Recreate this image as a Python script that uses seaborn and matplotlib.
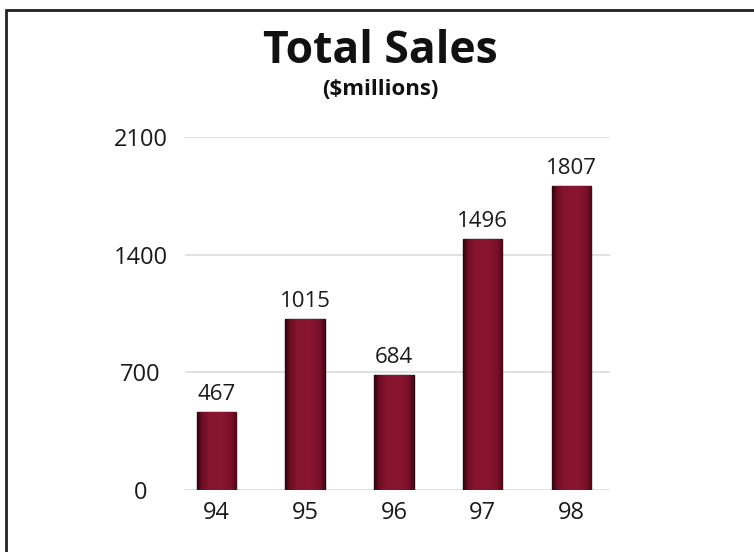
import numpy as np
import matplotlib
matplotlib.use("Agg")
import matplotlib.pyplot as plt
from matplotlib.lines import Line2D
from matplotlib.colors import LinearSegmentedColormap
import seaborn as sns

# Fiscal years and total sales ($ millions)
years = ["94", "95", "96", "97", "98"]
sales = [467, 1015, 684, 1496, 1807]
y_ticks = [0, 700, 1400, 2100]

sns.set_theme(style="white")
plt.rcParams["font.family"] = ["Open Sans", "DejaVu Sans"]

fig = plt.figure(figsize=(7.54, 5.52), dpi=100)
fig.patch.set_facecolor("white")
ax = fig.add_axes([0.2454, 0.1123, 0.5636, 0.6395])

sns.barplot(x=years, y=sales, color="#851431", width=0.44,
            edgecolor="#2a0710", linewidth=1.0, ax=ax, zorder=3)

# Shade each bar: thin dark edges around a crimson core
shade = LinearSegmentedColormap.from_list(
    "bar_shade",
    [(0.0, "#2e040e"), (0.12, "#6e0e25"), (0.3, "#86142f"),
     (0.6, "#8a1632"), (0.88, "#7a1029"), (1.0, "#4a0818")])
grad = np.linspace(0, 1, 64).reshape(1, -1)
for patch in ax.patches:
    x0, y0 = patch.get_x(), patch.get_y()
    w, h = patch.get_width(), patch.get_height()
    im = ax.imshow(grad, cmap=shade, aspect="auto", zorder=3.5,
                   extent=(x0, x0 + w, y0, y0 + h), interpolation="bicubic")
    im.set_clip_path(patch)

# Value labels above bars
for i, v in enumerate(sales):
    ax.annotate(f"{v}", (i, v), xytext=(0, 5), textcoords="offset points",
                ha="center", va="bottom", fontsize=16, color="#1a1a1a")

ax.set_xlim(-0.35, 4.43)
ax.set_ylim(0, 2100)
ax.set_yticks(y_ticks)
ax.set_yticklabels([str(t) for t in y_ticks])
for lbl in ax.get_yticklabels():
    lbl.set_horizontalalignment("center")
ax.tick_params(axis="y", length=0, pad=32, labelsize=17, colors="#1a1a1a")
ax.tick_params(axis="x", length=0, pad=8, labelsize=17, colors="#1a1a1a")
ax.yaxis.grid(True, color="#dcdcdc", linewidth=1.2, zorder=0)
ax.set_axisbelow(True)
for s in ax.spines.values():
    s.set_visible(False)
ax.set_xlabel("")
ax.set_ylabel("")

fig.text(0.504, 0.907, "Total Sales", ha="center", va="center",
         fontsize=32, fontweight="bold", color="#111111")
fig.text(0.504, 0.838, "($millions)", ha="center", va="center",
         fontsize=16, fontweight="bold", color="#111111")

# Frame lines along the top and left edges
fig.add_artist(Line2D([0.008, 1.0], [0.982, 0.982], transform=fig.transFigure,
                      color="#222222", linewidth=2.0))
fig.add_artist(Line2D([0.008, 0.008], [0.0, 0.982], transform=fig.transFigure,
                      color="#222222", linewidth=2.0))

fig.savefig("out.png", dpi=100, facecolor="white")
